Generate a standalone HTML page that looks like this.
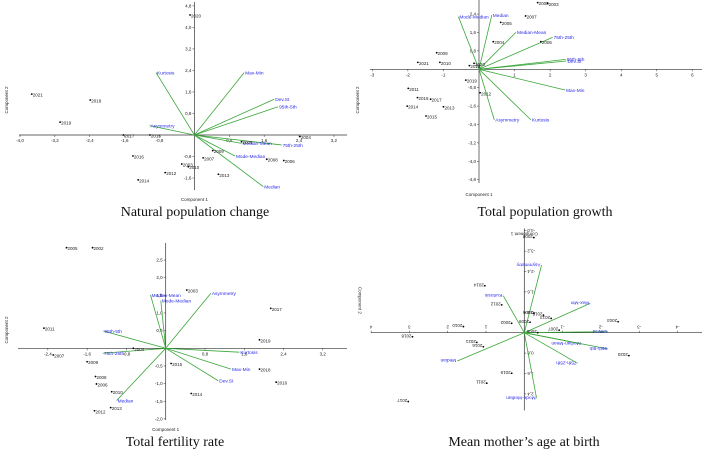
<!DOCTYPE html>
<html><head><meta charset="utf-8"><style>
html,body{margin:0;padding:0;background:#fff;}
svg{display:block;}
.t{font-family:"Liberation Sans",sans-serif;font-size:4.5px;fill:#222;}
.v{font-family:"Liberation Sans",sans-serif;font-size:4.8px;fill:#2a2ae8;}
.ttl{font-family:"Liberation Serif",serif;font-size:14px;fill:#111;}
</style></head><body>
<svg id="chart" width="702" height="449" viewBox="0 0 702 449" xmlns="http://www.w3.org/2000/svg">
<text class="ttl" x="195" y="216" text-anchor="middle">Natural population change</text>
<text class="ttl" x="545" y="216" text-anchor="middle">Total population growth</text>
<text class="ttl" x="175" y="446" text-anchor="middle">Total fertility rate</text>
<text class="ttl" x="524" y="446" text-anchor="middle">Mean mother’s age at birth</text>
</svg>
<script>
// Panel 1: Natural population change
const p1Years=["2020","2021","2018","2019","2017","2015","2016","2014","2012","2003","2010","2009","2007","2013","2005","2008","2006","2004"];
const p1X=[-0.1,-3.73,-2.39,-3.08,-1.63,-1.02,-1.41,-1.29,-0.67,-0.29,-0.14,0.42,0.2,0.55,1.08,1.66,2.05,2.42];
const p1Y=[4.46,1.52,1.30,0.48,0,0,-0.78,-1.67,-1.40,-1.08,-1.18,-0.58,-0.85,-1.46,-0.25,-0.9,-0.95,-0.06];
const p1Vars=["Kurtosis","Max-Min","Dev.St","95th-5th","Asymmetry","75th-25th","Median-Mean","Mode-Median","Median"];
const p1VX=[-0.88,1.14,1.83,1.92,-1.03,2.0,1.08,0.93,1.58];
const p1VY=[2.32,2.32,1.33,1.05,0.35,-0.37,-0.31,-0.78,-1.92];
const p1XTicks=[-4.0,-3.2,-2.4,-1.6,-0.8,0.8,1.6,2.4,3.2];
const p1YTicks=[-1.6,-0.8,0.8,1.6,2.4,3.2,4.0,4.8];
// Panel 2: Total population growth
const p2Years=["2008","2003","2007","2005","2006","2004","2009","2021","2010","2020","2018","2019","2012","2011","2016","2017","2014","2013","2015"];
const p2X=[1.65,1.93,1.31,0.61,1.74,0.4,-1.19,-1.72,-1.1,-0.14,-0.27,-0.37,0.03,-1.99,-1.73,-1.36,-2.02,-1.0,-1.49];
const p2Y=[2.9,2.87,2.32,2.04,1.2,1.2,0.72,0.3,0.3,0.26,0.16,-0.47,-1.02,-0.83,-1.23,-1.3,-1.6,-1.63,-2.03];
const p2Vars=["Mode-Median","Median","Median-Mean","75th-25th","95th-5th","Dev.St","Max-Min","Kurtosis","Asymmetry"];
const p2VX=[-0.58,0.36,1.04,2.07,2.44,2.46,2.42,1.46,0.43];
const p2VY=[2.29,2.36,1.61,1.39,0.43,0.36,-0.9,-2.2,-2.2];
const p2XTicks=[-3,-2,-1,1,2,3,4,5,6];
const p2YTicks=[-4.8,-4.0,-3.2,-2.4,-1.6,-0.8,0.8,1.6,2.4];
// Panel 3: Total fertility rate
const p3Years=["2005","2002","2003","2017","2011","2019","2004","2007","2009","2015","2018","2008","2006","2016","2010","2014","2013","2012"];
const p3X=[-2.02,-1.49,0.43,2.14,-2.48,1.91,-0.66,-2.29,-1.6,0.11,1.91,-1.43,-1.41,2.25,-1.1,0.52,-1.12,-1.45];
const p3Y=[2.85,2.85,1.65,1.13,0.57,0.24,0,-0.19,-0.38,-0.43,-0.59,-0.8,-1.01,-0.96,-1.23,-1.28,-1.68,-1.77];
const p3Vars=["Asymmetry","Median-Mean","Mode-Median","95th-5th","75th-25th","Kurtosis","Max-Min","Dev.St","Median"];
const p3VX=[0.92,-0.31,-0.1,-1.27,-1.28,1.5,1.33,1.07,-1.0];
const p3VY=[1.56,1.51,1.35,0.49,-0.14,-0.11,-0.59,-0.92,-1.48];
const p3XTicks=[-2.4,-1.6,-0.8,0.8,1.6,2.4,3.2];
const p3YTicks=[-2.0,-1.5,-1.0,-0.5,0.5,1.0,1.5,2.0,2.5];
// Panel 4: Mean mother's age at birth (figure appears rotated 180°)
const p4Years=["2008","2014","2012","2005","2015","2013","2009","2002","2010","2007","2006","2003","2018","2021","2016","2020","2019","2011","2017"];
const p4X=[-0.25,1.03,0.59,-0.25,-0.5,-0.7,-0.15,0.33,1.59,-0.91,-0.35,-2.45,2.92,1.24,1.07,-2.73,0.33,0.98,3.03];
const p4Y=[-3.73,-1.84,-1.09,-0.76,-0.69,-0.56,-0.41,-0.37,-0.24,-0.1,0,-0.43,0.16,0.38,0.55,0.9,1.59,1.98,2.7];
const p4Vars=["Asymmetry","Kurtosis","Max-Min","Dev.St","Median-Mean","95th-5th","75th-25th","Median","Mode-Median"];
const p4VX=[-0.45,0.55,-1.72,-2.18,-1.5,-2.19,-1.39,1.75,-0.32];
const p4VY=[-2.65,-1.45,-1.15,-0.04,0.44,0.64,1.2,1.11,2.57];
const p4XTicks=[-4,-3,-2,-1,1,2,3,4];
const p4YTicks=[-4.0,-3.2,-2.4,-1.6,-0.8,0.8,1.6,2.4];

const NS="http://www.w3.org/2000/svg";
const svg=document.getElementById('chart');
function mk(tag,attrs,parent){const e=document.createElementNS(NS,tag);for(const k in attrs)e.setAttribute(k,attrs[k]);parent.appendChild(e);return e;}
function fmt(v,dec){return dec?v.toFixed(1).replace('.',','):String(v);}

function panel(id,parent,ox,oy,kx,ky,xa0,xa1,ya0,ya1,xT,yT,xDec,yDec,years,px,py,vars,vx,vy,c2x,c2y,c1y){
  const g=mk('g',{},parent);
  
  
  const sx=v=>ox+v*kx, sy=v=>oy-v*ky;
  const xa=mk('line',{x1:xa0,y1:oy,x2:xa1,y2:oy,stroke:'#333','stroke-width':0.7},g);
  
  
  const ya=mk('line',{x1:ox,y1:ya0,x2:ox,y2:ya1,stroke:'#333','stroke-width':0.7},g);
  
  
  xT.forEach(v=>{
    mk('line',{x1:sx(v),y1:oy,x2:sx(v),y2:oy+2,stroke:'#333','stroke-width':0.5},g);
    const t=mk('text',{class:'t',x:sx(v),y:oy+7,'text-anchor':'middle'},g);
    t.textContent=fmt(v,xDec);
    
    
  });
  yT.forEach(v=>{
    mk('line',{x1:ox-2,y1:sy(v),x2:ox,y2:sy(v),stroke:'#333','stroke-width':0.5},g);
    const t=mk('text',{class:'t',x:ox-3,y:sy(v)+1.5,'text-anchor':'end'},g);
    t.textContent=fmt(v,yDec);
    
    
  });
  vars.forEach((n,i)=>{
    const l=mk('line',{x1:ox,y1:oy,x2:sx(vx[i]),y2:sy(vy[i]),stroke:'#3aa63a','stroke-width':0.8},g);
    
    
    const t=mk('text',{class:'v',x:sx(vx[i])+1,y:sy(vy[i])+1.8},g);
    t.textContent=n;
    
    
  });
  years.forEach((n,i)=>{
    const c=mk('circle',{cx:sx(px[i]),cy:sy(py[i]),r:0.9,fill:'#000'},g);
    
    
    const t=mk('text',{class:'t',x:sx(px[i])+1,y:sy(py[i])+2.5},g);
    t.textContent=n;
    
    
  });
  const c1=mk('text',{class:'t',x:ox,y:c1y,'text-anchor':'middle'},g);
  c1.textContent='Component 1';
  
  
  const c2=mk('text',{class:'t',x:c2x,y:c2y,'text-anchor':'middle',transform:'rotate(-90 '+c2x+' '+c2y+')'},g);
  c2.textContent='Component 2';
  
  
}
panel('p1',svg,194.4,135,43.6,26.9,19,347,2,190,p1XTicks,p1YTicks,true,true,p1Years,p1X,p1Y,p1Vars,p1VX,p1VY,8,100,201);
panel('p2',svg,479,69.3,35.56,23.0,370,702,0,183,p2XTicks,p2YTicks,false,true,p2Years,p2X,p2Y,p2Vars,p2VX,p2VY,359,100,196);
panel('p3',svg,165.7,348.3,49.1,35.3,18,347,243,420,p3XTicks,p3YTicks,true,true,p3Years,p3X,p3Y,p3Vars,p3VX,p3VY,8,330,431);
const rg=mk('g',{transform:'rotate(180 524.3 332.7)'},svg);


panel('p4',rg,524.3,332.7,38.3,25.5,346.6,677.6,255,437,p4XTicks,p4YTicks,false,true,p4Years,p4X,p4Y,p4Vars,p4VX,p4VY,690,365,433);
</script>
</body></html>
